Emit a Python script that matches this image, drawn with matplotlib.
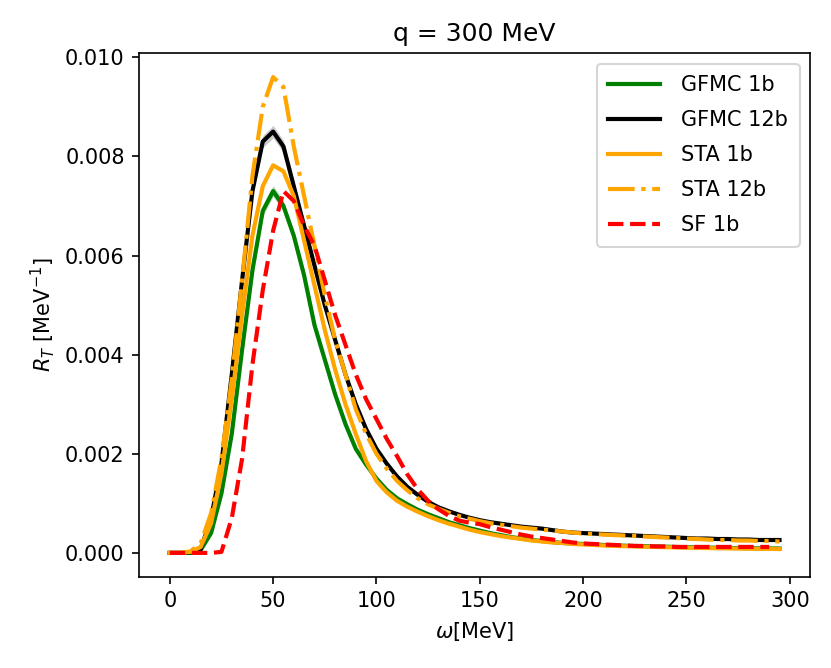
import numpy as np
import matplotlib
matplotlib.use("Agg")
import matplotlib.pyplot as plt

# energy transfer grid [MeV]
omega = np.arange(0, 300, 5)
omega_sf = np.arange(0, 295, 5)

gfmc_1b = [0, 0, 0, 0.00006, 0.0004, 0.0012, 0.0024, 0.0041, 0.0057, 0.0069,
           0.0073, 0.0070, 0.0064, 0.0056, 0.0046, 0.0039, 0.0032, 0.0026, 0.0021, 0.00178,
           0.0015, 0.00127, 0.0011, 0.00098, 0.00087, 0.00078, 0.0007, 0.00062, 0.00056, 0.0005,
           0.00045, 0.0004, 0.00036, 0.00032, 0.00029, 0.00026, 0.00024, 0.00022, 0.0002, 0.00019,
           0.00018, 0.00017, 0.00016, 0.00015, 0.000145, 0.00014, 0.000135, 0.00013, 0.000125, 0.00012,
           0.000115, 0.00011, 0.000107, 0.000104, 0.0001, 0.000098, 0.000095, 0.000093, 0.00009, 0.000088]

gfmc_12b = [0, 0, 0.00001, 0.00008, 0.0007, 0.0018, 0.0036, 0.0055, 0.0073, 0.0083,
            0.0085, 0.0082, 0.0074, 0.0066, 0.0058, 0.0050, 0.0043, 0.0036, 0.0030, 0.0025,
            0.0021, 0.0018, 0.00154, 0.00133, 0.00117, 0.00103, 0.00092, 0.00084, 0.00077, 0.00071,
            0.00066, 0.00062, 0.00059, 0.00056, 0.00053, 0.00051, 0.00049, 0.00046, 0.00043, 0.00041,
            0.0004, 0.00039, 0.00038, 0.00037, 0.00036, 0.00035, 0.00034, 0.00033, 0.00032, 0.00031,
            0.0003, 0.00029, 0.00029, 0.00028, 0.00028, 0.00027, 0.00027, 0.00026, 0.00026, 0.00026]

sta_1b = [0, 0, 0.00002, 0.00012, 0.0006, 0.0016, 0.0031, 0.0048, 0.0064, 0.0074,
          0.00782, 0.0077, 0.0072, 0.0063, 0.0054, 0.0045, 0.0037, 0.0030, 0.0024, 0.00185,
          0.00145, 0.00122, 0.00105, 0.00093, 0.00083, 0.00074, 0.00066, 0.00059, 0.00053, 0.00047,
          0.00042, 0.00038, 0.00034, 0.00031, 0.00028, 0.00025, 0.00023, 0.00021, 0.0002, 0.00018,
          0.00017, 0.00016, 0.00015, 0.00014, 0.000135, 0.00013, 0.000125, 0.00012, 0.000115, 0.00011,
          0.000105, 0.0001, 0.000097, 0.000094, 0.00009, 0.000088, 0.000085, 0.000083, 0.00008, 0.000078]

sta_12b = [0, 0, 0.00003, 0.0002, 0.0008, 0.0019, 0.0035, 0.0055, 0.0076, 0.0090,
           0.0096, 0.0094, 0.0082, 0.0072, 0.0062, 0.0052, 0.0043, 0.0036, 0.0029, 0.0024,
           0.0020, 0.0017, 0.00145, 0.00126, 0.0011, 0.00098, 0.00089, 0.00081, 0.00074, 0.00069,
           0.00064, 0.0006, 0.00057, 0.00054, 0.00051, 0.00049, 0.00047, 0.00045, 0.00043, 0.00041,
           0.00039, 0.00038, 0.00037, 0.00036, 0.00035, 0.00034, 0.00033, 0.00032, 0.00031, 0.0003,
           0.00029, 0.00028, 0.00027, 0.00026, 0.00026, 0.00025, 0.00025, 0.00024, 0.00024, 0.00023]

sf_1b = [0, 0, 0, 0, 0, 0.00002, 0.0007, 0.0019, 0.0038, 0.0053,
         0.0065, 0.0073, 0.0071, 0.0066, 0.0062, 0.0055, 0.0048, 0.0042, 0.0036, 0.0031,
         0.0027, 0.0023, 0.00195, 0.00158, 0.00128, 0.00105, 0.00088, 0.00075, 0.00065, 0.00061,
         0.00058, 0.00052, 0.00047, 0.00042, 0.00037, 0.00033, 0.0003, 0.00027, 0.00024, 0.00021,
         0.00019, 0.00018, 0.00017, 0.00016, 0.00015, 0.00014, 0.00014, 0.00013, 0.00013, 0.00012,
         0.00012, 0.00012, 0.00012, 0.00012, 0.00012, 0.00012, 0.00012, 0.00012, 0.00012]

fig = plt.figure(figsize=(831/150, 668/150), dpi=150)
ax = fig.add_axes([0.1676, 0.1367, 0.9747 - 0.1676, 0.9202 - 0.1367])

g1 = np.array(gfmc_1b)
g12 = np.array(gfmc_12b)
ax.fill_between(omega, g1 * 0.985, g1 * 1.015, color="green", alpha=0.3, lw=0)
ax.fill_between(omega, g12 * 0.985, g12 * 1.015, color="grey", alpha=0.4, lw=0)

lw = 2
ax.plot(omega, gfmc_1b, color="green", lw=lw, label="GFMC 1b")
ax.plot(omega, gfmc_12b, color="black", lw=lw, label="GFMC 12b")
ax.plot(omega, sta_1b, color="orange", lw=lw, label="STA 1b")
ax.plot(omega, sta_12b, color="orange", lw=lw, linestyle="-.", label="STA 12b")
ax.plot(omega_sf, sf_1b, color="red", lw=lw, linestyle="--", label="SF 1b")

ax.set_xlabel(r"$\omega$[MeV]")
ax.set_ylabel(r"$R_T$ [MeV$^{-1}$]")
ax.set_title("q = 300 MeV")
ax.legend(loc="upper right", handlelength=2.5, labelspacing=0.72,
          borderpad=0.55, handletextpad=1.0)

fig.savefig("out.png", dpi=150)
